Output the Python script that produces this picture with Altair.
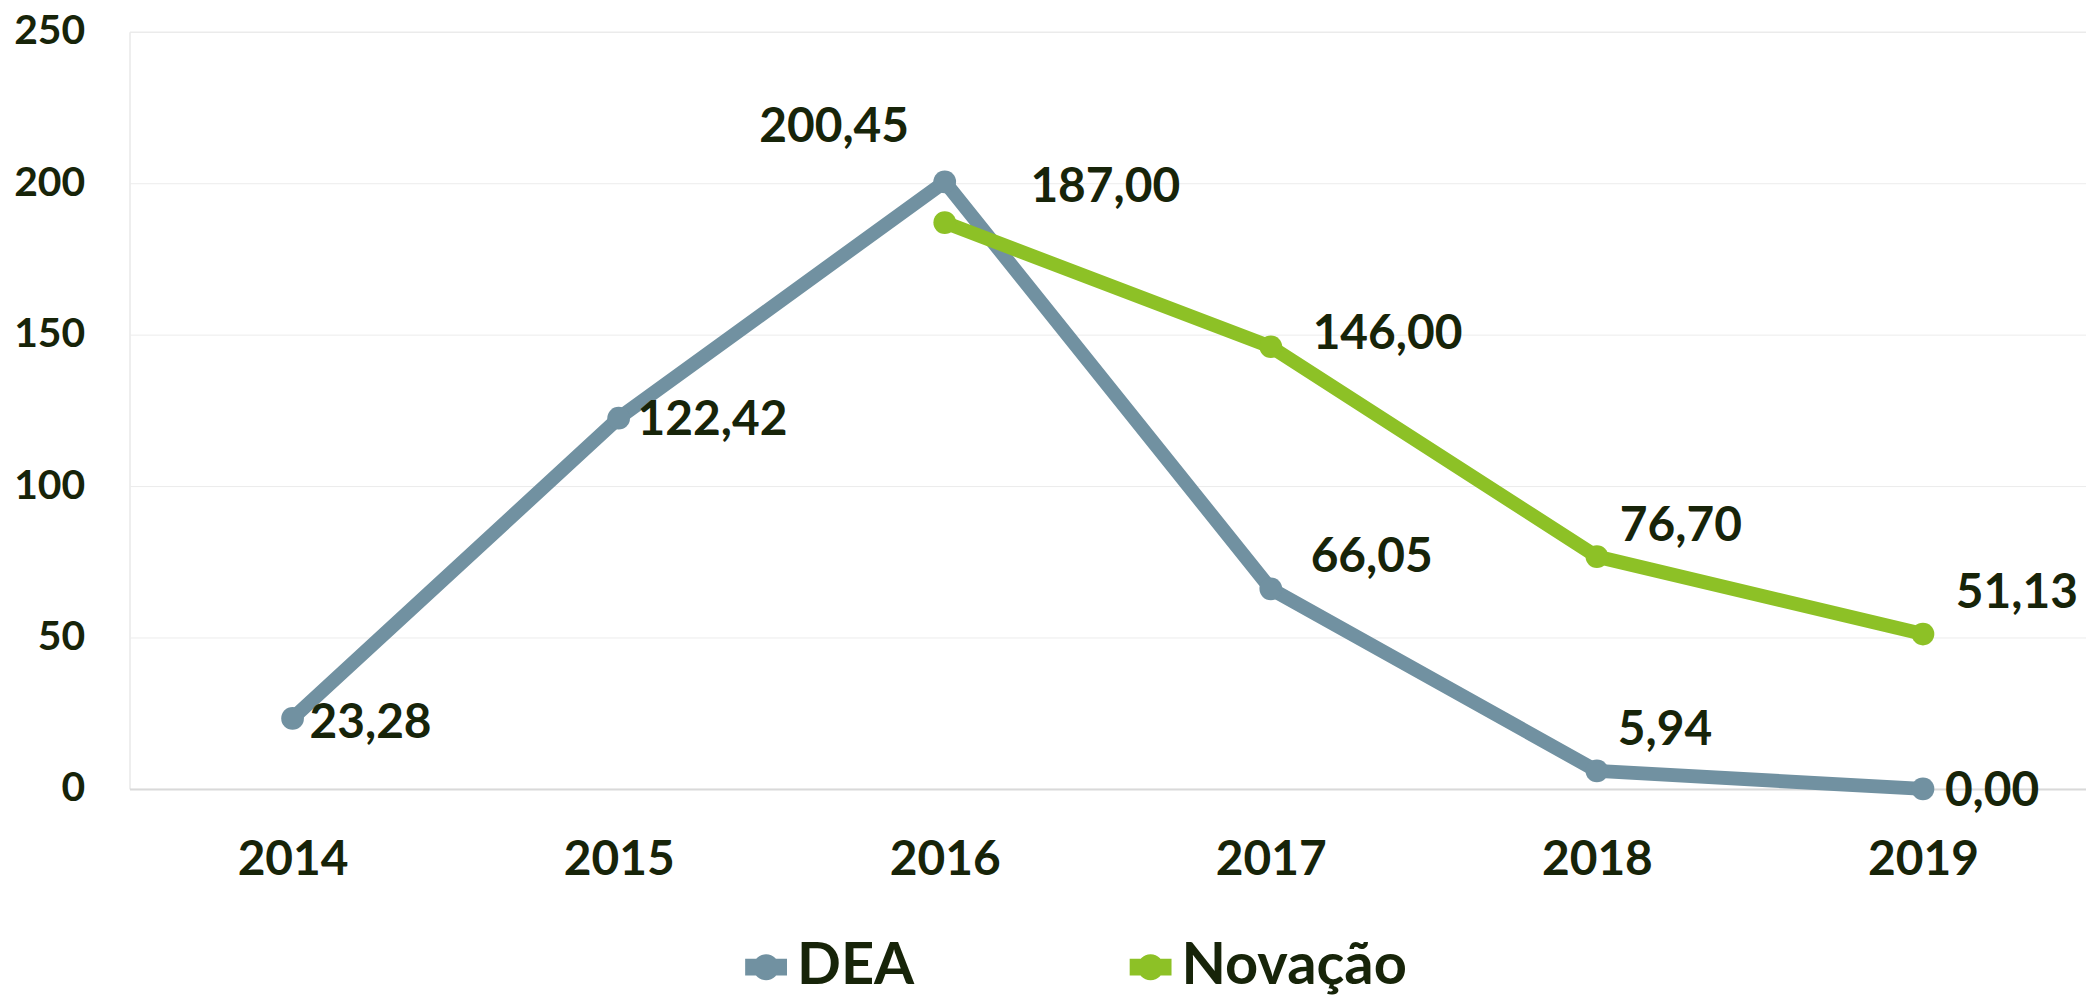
import altair as alt
import pandas as pd

years = ["2014", "2015", "2016", "2017", "2018", "2019"]
dea = [23.28, 122.42, 200.45, 66.05, 5.94, 0.00]
novacao = [None, None, 187.00, 146.00, 76.70, 51.13]
series_names = ["DEA", "Novação"]
series_colors = ["#7191a1", "#8dc126"]

rows = []
for name, vals in zip(series_names, [dea, novacao]):
    for y, v in zip(years, vals):
        if v is not None:
            rows.append({"year": y, "value": v, "series": name,
                         "label": f"{v:.2f}".replace(".", ",")})
df = pd.DataFrame(rows)

TEXT = "#172409"
FONT = "Lato"

x_enc = alt.X("year:O", title=None,
              scale=alt.Scale(type="point", padding=0.5),
              axis=alt.Axis(labelAngle=0, labelFontSize=48, labelFont=FONT,
                            labelFontWeight="bold", labelColor=TEXT,
                            labelBaseline="middle", labelPadding=72,
                            ticks=False, domain=True, domainColor="#d9d9d9",
                            domainWidth=2, grid=False))
y_enc = alt.Y("value:Q", title=None,
              scale=alt.Scale(domain=[0, 250], nice=False),
              axis=alt.Axis(values=[0, 50, 100, 150, 200, 250], labelFontSize=41,
                            labelFont=FONT, labelFontWeight="bold",
                            labelColor=TEXT, labelPadding=45, ticks=False,
                            domain=False, gridColor="#ececec", gridWidth=1))
color_scale = alt.Scale(domain=series_names, range=series_colors)

base = alt.Chart(df)

line_layers = []
for s, c in zip(series_names, series_colors):
    line_layers.append(
        base.transform_filter(alt.datum.series == s).mark_line(
            strokeWidth=14, strokeCap="round", strokeJoin="round", color=c
        ).encode(x=x_enc, y=y_enc)
    )

legend_symbol = ("M-1,-0.4 H1 V0.4 H-1 Z "
                 "M0.62,0 A0.62,0.62 0 1,1 -0.62,0 A0.62,0.62 0 1,1 0.62,0 Z")

points = base.mark_circle(size=520, opacity=1).encode(
    x=x_enc, y=y_enc,
    color=alt.Color("series:N", scale=color_scale, title=None,
                    legend=alt.Legend(orient="none", direction="horizontal",
                                      legendX=610, legendY=910,
                                      symbolType=legend_symbol, symbolSize=1764,
                                      symbolStrokeWidth=0, symbolOpacity=1,
                                      labelFont=FONT, labelFontSize=58,
                                      labelFontWeight="bold", labelColor=TEXT,
                                      labelLimit=500, labelOffset=2,
                                      columnPadding=208)),
)

# label offsets (style only), keyed by series and year
offsets = {
    ("DEA", "2014"): (17, 6, "left"),
    ("DEA", "2015"): (19, 3, "left"),
    ("DEA", "2016"): (-111, -54, "center"),
    ("DEA", "2017"): (40, -31, "left"),
    ("DEA", "2018"): (21, -40, "left"),
    ("DEA", "2019"): (22, 3, "left"),
    ("Novação", "2016"): (86, -35, "left"),
    ("Novação", "2017"): (42, -12, "left"),
    ("Novação", "2018"): (23, -30, "left"),
    ("Novação", "2019"): (33, -40, "left"),
}

label_layers = []
for (s, yr), (dx, dy, al) in offsets.items():
    label_layers.append(
        base.transform_filter(
            (alt.datum.series == s) & (alt.datum.year == yr)
        ).mark_text(font=FONT, fontSize=48, fontWeight="bold", color=TEXT,
                    align=al, baseline="middle", dx=dx, dy=dy).encode(
            x=x_enc, y=y_enc, text="label:N")
    )

chart = alt.layer(*line_layers, points, *label_layers).properties(
    width=1964, height=760,
    autosize=alt.AutoSizeParams(type="none"),
    padding={"left": 122, "top": 22, "right": 0, "bottom": 205},
).configure_view(stroke=None).configure(background="white")

chart.save("out.html", embed_options={"renderer": "svg", "actions": False})
